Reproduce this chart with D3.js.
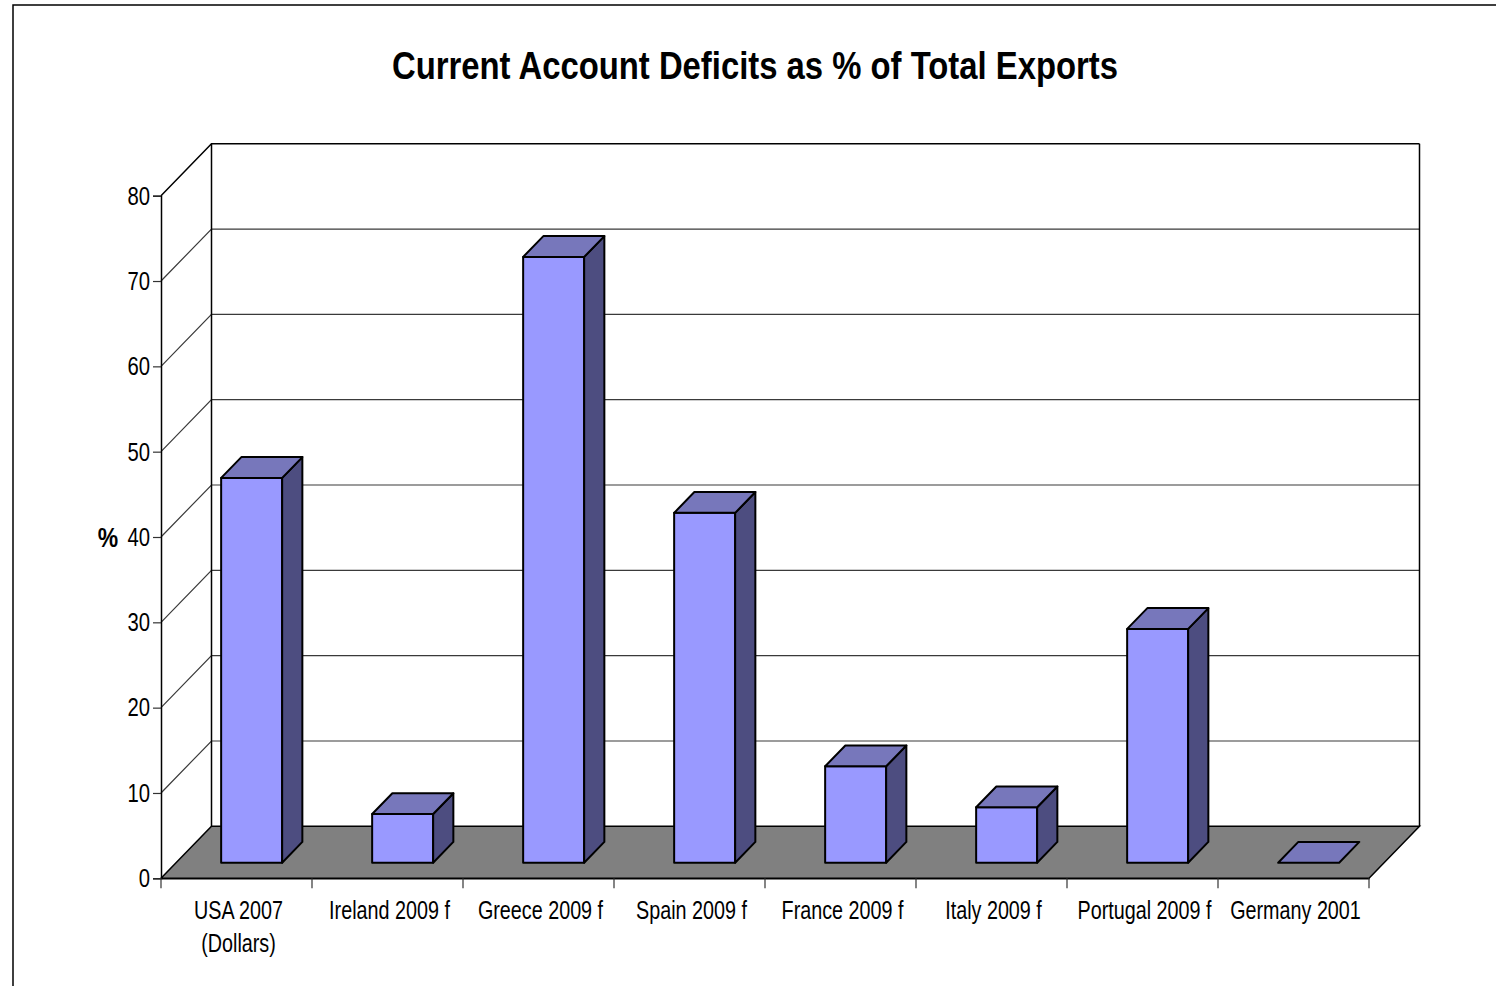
<!DOCTYPE html>
<html>
<head>
<meta charset="utf-8">
<script src="https://cdn.jsdelivr.net/npm/d3@7"></script>
<style>
  html, body { margin: 0; padding: 0; background: #fff; }
  svg { display: block; }
  text { font-family: "Liberation Sans", Arial, sans-serif; }
</style>
</head>
<body>
<svg id="chart" width="1496" height="986"></svg>
<script>
// ---- data ----
const categories = ["USA 2007\n(Dollars)", "Ireland 2009 f", "Greece 2009 f", "Spain 2009 f",
                    "France 2009 f", "Italy 2009 f", "Portugal 2009 f", "Germany 2001"];
const values = [45.1, 5.7, 71.0, 41.0, 11.3, 6.5, 27.4, 0];
const yTicks = [0, 10, 20, 30, 40, 50, 60, 70, 80];
const titleText = "Current Account Deficits as % of Total Exports";
const yLabel = "%";

// ---- layout ----
const svg = d3.select("#chart");
const W = 1496, H = 986;
const depth = { dx: 50.5, dy: -52 };
const barDepth = [0.3, 0.7];
const narrow = 0.76;
const colors = { front: "#9999FF", top: "#7777BB", side: "#4D4D80", floor: "#808080", grid: "#3a3a3a" };

const x = d3.scaleBand().domain(categories).range([161, 1369]).paddingInner(0.596).paddingOuter(0.298);
const xTick = d3.scaleBand().domain(categories).range([161, 1369]).padding(0);
const y = d3.scaleLinear().domain([0, 80]).range([878.3, 195.7]);

const pt = (px, py, t) => [px + depth.dx * t, py + depth.dy * t];
const poly = pts => "M" + pts.map(p => p.join(",")).join("L") + "Z";

// outer frame
svg.append("path").attr("d", `M13,${H} L13,5 L${W},5`).attr("fill", "none").attr("stroke", "#000").attr("stroke-width", 1.5);

// title
svg.append("text").attr("x", 392).attr("y", 79)
  .attr("font-size", 39).attr("font-weight", "bold")
  .attr("textLength", 726).attr("lengthAdjust", "spacingAndGlyphs").text(titleText);

const x0 = 161, x1 = 1369;
const yMin = y(0), yMax = y(80);

// back wall & left wall
const wall = svg.append("g");
wall.append("path").attr("d", poly([pt(x0, yMax, 1), pt(x1, yMax, 1), pt(x1, yMin, 1), pt(x0, yMin, 1)]))
  .attr("fill", "#fff").attr("stroke", "none");
yTicks.filter(v => v > 0).forEach(v => {
  const a = pt(x0, y(v), 0), b = pt(x0, y(v), 1), c = pt(x1, y(v), 1);
  wall.append("path").attr("d", `M${a}L${b}L${c}`).attr("fill", "none")
    .attr("stroke", v === 80 ? "#000" : colors.grid).attr("stroke-width", v === 80 ? 1.5 : 1.2);
});
wall.append("path").attr("d", `M${pt(x0, yMin, 1)}L${pt(x0, yMax, 1)}`).attr("stroke", "#000").attr("stroke-width", 1.5);
wall.append("path").attr("d", `M${pt(x1, yMin, 1)}L${pt(x1, yMax, 1)}`).attr("stroke", "#000").attr("stroke-width", 1.5);

// floor
svg.append("path").attr("d", poly([pt(x0, yMin, 0), pt(x1, yMin, 0), pt(x1, yMin, 1), pt(x0, yMin, 1)]))
  .attr("fill", colors.floor).attr("stroke", "#000").attr("stroke-width", 1.5);

// y axis (front)
const yAxis = d3.axisLeft(y).tickValues(yTicks).tickSize(8).tickFormat(d3.format("d"));
const gy = svg.append("g").attr("transform", `translate(${x0},0)`).call(yAxis);
gy.select(".domain").attr("stroke", "#000").attr("stroke-width", 1.5);
gy.selectAll(".tick line").attr("stroke", "#333").attr("stroke-width", 1.2);
gy.selectAll(".tick text").attr("font-size", 26).attr("fill", "#000").attr("x", 0)
  .attr("font-family", '"Liberation Sans", Arial, sans-serif')
  .attr("transform", `translate(-11,0) scale(0.78,1)`);

svg.append("text").attr("x", 0).attr("y", 0).attr("text-anchor", "middle")
  .attr("transform", "translate(108,547) scale(0.85,1)")
  .attr("font-size", 27).attr("font-weight", "bold").text(yLabel);

// x axis
const xAxis = d3.axisBottom(xTick).tickSize(0).tickFormat("");
const gx = svg.append("g").attr("transform", `translate(0,${yMin})`).call(xAxis);
gx.select(".domain").attr("stroke", "#000").attr("stroke-width", 1.5);
const bounds = categories.map(c => xTick(c)).concat([x1]);
gx.selectAll(".sep").data(bounds).join("line").attr("class", "sep")
  .attr("x1", d => d).attr("x2", d => d).attr("y1", 0).attr("y2", 10)
  .attr("stroke", "#333").attr("stroke-width", 1.2);

const labels = svg.append("g");
categories.forEach(c => {
  const cx = xTick(c) + xTick.bandwidth() / 2 + 2;
  const t = labels.append("text").attr("x", 0).attr("y", 0)
    .attr("transform", `translate(${cx},919) scale(${narrow},1)`)
    .attr("text-anchor", "middle").attr("font-size", 26).attr("fill", "#000");
  c.split("\n").forEach((line, i) => {
    t.append("tspan").attr("x", 0).attr("dy", i === 0 ? 0 : 33).text(line);
  });
});

// bars
const bars = svg.append("g");
categories.forEach((c, i) => {
  const v = values[i];
  const bx = x(c), bw = x.bandwidth();
  const [t1, t2] = barDepth;
  const fl = pt(bx, y(0), t1), fr = pt(bx + bw, y(0), t1);
  const tl = pt(bx, y(v), t1), tr = pt(bx + bw, y(v), t1);
  const btl = pt(bx, y(v), t2), btr = pt(bx + bw, y(v), t2), bbr = pt(bx + bw, y(0), t2);
  const g = bars.append("g").attr("stroke", "#000").attr("stroke-width", 2).attr("stroke-linejoin", "round");
  if (v > 0) {
    g.append("path").attr("d", poly([fl, fr, tr, tl])).attr("fill", colors.front);
    g.append("path").attr("d", poly([fr, bbr, btr, tr])).attr("fill", colors.side);
  }
  g.append("path").attr("d", poly([tl, tr, btr, btl])).attr("fill", colors.top);
});
</script>
</body>
</html>
